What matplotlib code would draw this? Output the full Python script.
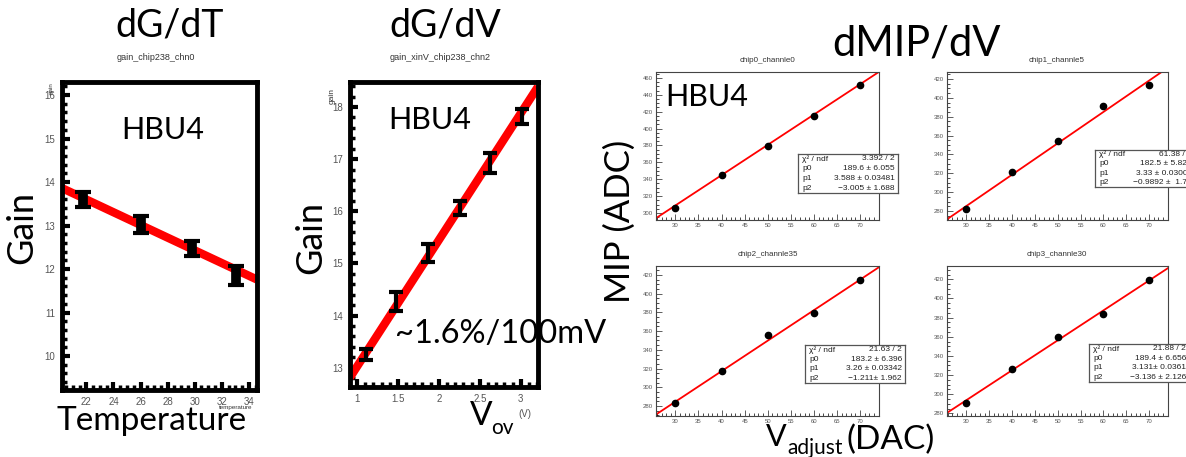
import numpy as np
import matplotlib.pyplot as plt
from matplotlib.ticker import MultipleLocator

W, H = 1186, 457

# gain vs temperature (HBU4, chip238 chn0)
temp = [21.73, 26.0, 29.8, 33.05]
gain_t = [13.6, 13.03, 12.48, 11.85]
gain_t_err = [0.17, 0.2, 0.17, 0.21]
fit_t_slope, fit_t_icpt = -0.146, 16.81

# gain vs overvoltage (chip238 chn2)
vov = [1.11, 1.48, 1.87, 2.26, 2.63, 3.02]
gain_v = [13.25, 14.27, 15.2, 16.06, 16.92, 17.82]
gain_v_err = [0.11, 0.18, 0.17, 0.14, 0.19, 0.14]
fit_v_slope, fit_v_icpt = 2.43, 10.59

# MIP peak vs Vadjust DAC for four channels
vadj = [30, 40, 50, 60, 70]
mip_ch0 = [305.9, 344.6, 379.8, 414.9, 451.3]
mip_ch5 = [282.5, 321.2, 354.6, 390.9, 414.0]
mip_ch35 = [283.6, 317.8, 355.5, 379.7, 414.7]
mip_ch30 = [291.1, 326.3, 359.4, 384.1, 419.3]
mip_titles = ["chip0_channle0", "chip1_channle5", "chip2_channle35", "chip3_channle30"]
chi2 = ["3.392 / 2", "61.38 / 2", "21.63 / 2", "21.88 / 2"]
p0 = ["189.6 \u00b1 6.055", "182.5 \u00b1 5.821", "183.2 \u00b1 6.396", "189.4 \u00b1 6.656"]
p1_val = [3.588, 3.33, 3.26, 3.131]
p1 = ["3.588 \u00b1 0.03481", "3.33 \u00b1 0.03004", "3.26 \u00b1 0.03342", "3.131\u00b1 0.0361"]
p2 = ["\u22123.005 \u00b1 1.688", "\u22120.9892 \u00b1  1.73", "\u22121.211\u00b1 1.962", "\u22123.136 \u00b1 2.126"]
mip_icpt = [201.3, 185.3, 186.8, 199.7]   # line offset at x=0
mip_ylim = [(291.7, 467), (270.5, 427.4), (269.3, 429.6), (277.2, 433.9)]

SLIDE = "Lato"
ROOT = "Liberation Sans"

fig = plt.figure(figsize=(W / 100, H / 100), dpi=100)
fig.patch.set_facecolor("white")


def px_axes(l, t, r, b):
    return fig.add_axes([l / W, 1 - b / H, (r - l) / W, (b - t) / H])


def T(x, y, s, **kw):
    kw.setdefault("ha", "center")
    kw.setdefault("va", "center")
    return fig.text(x / W, 1 - y / H, s, **kw)


def thick_frame(ax):
    for sp in ax.spines.values():
        sp.set_linewidth(3.5)
        sp.set_color("black")
    ax.tick_params(which="major", direction="in", length=6, width=3,
                   labelsize=7, labelcolor="#555555", colors="black",
                   top=False, right=False, pad=5)
    ax.tick_params(which="minor", direction="in", length=3.5, width=2.5,
                   top=False, right=False)
    for lab in ax.get_xticklabels() + ax.get_yticklabels():
        lab.set_fontfamily(ROOT)


# ---- dG/dT ----
ax1 = px_axes(62, 82, 257, 390)
ax1.set_xlim(20.2, 34.6)
ax1.set_ylim(9.22, 16.3)
xs = np.array(ax1.get_xlim())
ax1.plot(xs, fit_t_icpt + fit_t_slope * xs, color="red", lw=6, solid_capstyle="butt")
ax1.errorbar(temp, gain_t, yerr=gain_t_err, fmt="none", ecolor="black",
             elinewidth=7, capsize=6, capthick=3)
ax1.xaxis.set_major_locator(MultipleLocator(2))
ax1.xaxis.set_minor_locator(MultipleLocator(0.5))
ax1.yaxis.set_major_locator(MultipleLocator(1))
ax1.yaxis.set_minor_locator(MultipleLocator(0.2))
thick_frame(ax1)

T(170, 26, "dG/dT", fontsize=27, family=SLIDE)
T(156, 57, "gain_chip238_chn0", fontsize=6.5, family=ROOT, color="#333333")
T(22, 228, "Gain", fontsize=26, family=SLIDE, rotation=90)
T(163, 130, "HBU4", fontsize=22, family=SLIDE)
T(152, 421, "Temperature", fontsize=24, family=SLIDE)
T(252, 408, "temperature", fontsize=4.5, family=ROOT, color="#333333", ha="right")
T(51, 88, "gain", fontsize=4.5, family=ROOT, color="#333333", rotation=90)

# ---- dG/dV ----
ax2 = px_axes(350, 82, 538, 387)
ax2.set_xlim(0.915, 3.21)
ax2.set_ylim(12.63, 18.48)
xs = np.array(ax2.get_xlim())
ax2.plot(xs, fit_v_icpt + fit_v_slope * xs, color="red", lw=6, solid_capstyle="butt")
ax2.errorbar(vov, gain_v, yerr=gain_v_err, fmt="none", ecolor="black",
             elinewidth=3, capsize=5, capthick=3)
ax2.xaxis.set_minor_locator(MultipleLocator(0.1))
ax2.yaxis.set_major_locator(MultipleLocator(1))
ax2.yaxis.set_minor_locator(MultipleLocator(0.2))
ax2.set_xticks([1, 1.5, 2, 2.5, 3])
ax2.set_xticklabels(["1", "1.5", "2", "2.5", "3"])
thick_frame(ax2)

T(445, 26, "dG/dV", fontsize=27, family=SLIDE)
T(440, 57, "gain_xinV_chip238_chn2", fontsize=6.5, family=ROOT, color="#333333")
T(311, 238, "Gain", fontsize=26, family=SLIDE, rotation=90)
T(430, 120, "HBU4", fontsize=22, family=SLIDE)
T(501, 334, "~1.6%/100mV", fontsize=23.5, family=SLIDE)
T(332, 96, "gain", fontsize=6, family=ROOT, color="#333333", rotation=90)
T(481, 416, "V", fontsize=24, family=SLIDE)
T(502, 428, "ov", fontsize=15, family=SLIDE)
T(525, 414, "(V)", fontsize=7, family=ROOT, color="#555555")

# ---- dMIP/dV ----
boxes = [(656, 72, 879, 220), (947, 72, 1168, 220),
         (656, 266, 879, 416), (947, 266, 1168, 416)]
stat_boxes = [(798, 154, 898, 193), (1095, 150, 1195, 187),
              (805, 345, 905, 383), (1089, 344, 1189, 382)]
title_pos = [(767, 60), (1057, 60), (768, 254), (1057, 254)]
mip_sets = [mip_ch0, mip_ch5, mip_ch35, mip_ch30]

for i in range(4):
    ax = px_axes(*boxes[i])
    ax.set_xlim(25.8, 74.1)
    ax.set_ylim(*mip_ylim[i])
    xs = np.array(ax.get_xlim())
    ax.plot(xs, mip_icpt[i] + p1_val[i] * xs, color="red", lw=1.3)
    ax.plot(vadj, mip_sets[i], "o", color="black", ms=4.5)
    ax.xaxis.set_major_locator(MultipleLocator(5))
    ax.xaxis.set_minor_locator(MultipleLocator(1))
    ax.yaxis.set_major_locator(MultipleLocator(20))
    ax.yaxis.set_minor_locator(MultipleLocator(5))
    for sp in ax.spines.values():
        sp.set_linewidth(0.8)
        sp.set_color("#444444")
    ax.tick_params(which="major", direction="in", length=4, width=0.6,
                   labelsize=4.3, labelcolor="#555555", colors="#444444",
                   top=False, right=False, pad=2)
    ax.tick_params(which="minor", direction="in", length=2, width=0.5,
                   top=False, right=False)
    for lab in ax.get_xticklabels() + ax.get_yticklabels():
        lab.set_fontfamily(ROOT)
    T(title_pos[i][0], title_pos[i][1], mip_titles[i], fontsize=5.8,
      family=ROOT, color="#333333")

    # fit statistics box
    bx = px_axes(*stat_boxes[i])
    bx.set_xlim(0, 1)
    bx.set_ylim(0, 4)
    bx.set_xticks([])
    bx.set_yticks([])
    for sp in bx.spines.values():
        sp.set_linewidth(0.9)
        sp.set_color("#555555")
    rows = [("\u03c7\u00b2 / ndf", chi2[i]), ("p0", p0[i]), ("p1", p1[i]), ("p2", p2[i])]
    for k, (name, val) in enumerate(rows):
        yy = 3.5 - k
        bx.text(0.04, yy, name, fontsize=6, family=ROOT, va="center", ha="left", color="#222222")
        bx.text(0.97, yy, val, fontsize=6, family=ROOT, va="center", ha="right", color="#222222")

T(916, 43, "dMIP/dV", fontsize=30, family=SLIDE)
T(707, 97, "HBU4", fontsize=22, family=SLIDE)
T(620, 221, "MIP (ADC)", fontsize=25, family=SLIDE, rotation=90)
T(776, 446, "V", fontsize=22, family=SLIDE, va="baseline")
T(787, 454, "adjust", fontsize=15, family=SLIDE, ha="left", va="baseline")
T(846, 449, "(DAC)", fontsize=24, family=SLIDE, ha="left", va="baseline")

fig.savefig("out.png", dpi=100, facecolor="white")
